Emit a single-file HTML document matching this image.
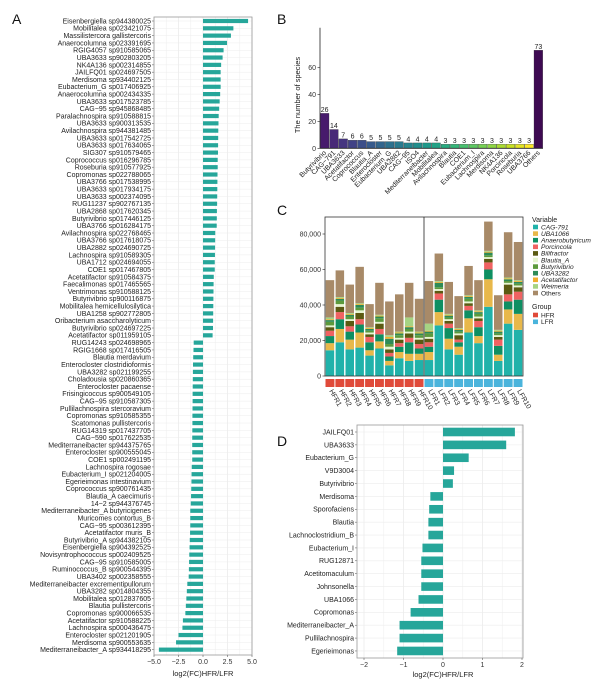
<!DOCTYPE html>
<html><head><meta charset="utf-8"><style>
html,body{margin:0;padding:0;background:#fff;}
svg{display:block;font-family:"Liberation Sans",Arial,sans-serif;}
</style></head><body>
<svg id="fig" width="612" height="693" viewBox="0 0 612 693" xmlns="http://www.w3.org/2000/svg">
<rect width="612" height="693" fill="#fff"/>
<g id="pA"></g>
<g id="pB"></g>
<g id="pC"></g>
<g id="pD"></g>
</svg>
<script>
// ---------- Panel A data ----------
const aSpecies = ["Eisenbergiella sp944380025","Mobilitalea sp023421075","Massilistercora gallistercoris","Anaerocolumna sp023391695","RGIG4057 sp910585065","UBA3633 sp902803205","NK4A136 sp002314855","JAILFQ01 sp024697505","Merdisoma sp934402125","Eubacterium_G sp017406925","Anaerocolumna sp002434335","UBA3633 sp017523785","CAG−95 sp945868485","Paralachnospira sp910588815","UBA3633 sp900313535","Avilachnospira sp944381485","UBA3633 sp017542725","UBA3633 sp017634065","SIG307 sp910579465","Coprococcus sp016296785","Roseburia sp910577925","Copromonas sp022788065","UBA3766 sp017538995","UBA3633 sp017934175","UBA3633 sp002374095","RUG11237 sp902767135","UBA2868 sp017620345","Butyrivibrio sp017446125","UBA3766 sp016284175","Avilachnospira sp022768465","UBA3766 sp017618075","UBA2882 sp024690725","Lachnospira sp910589305","UBA1712 sp024694055","COE1 sp017467805","Acetatifactor sp910584375","Faecalimonas sp017465565","Ventrimonas sp910588125","Butyrivibrio sp900116875","Mobilitalea hemicellulosilytica","UBA1258 sp902772805","Oribacterium asaccharolyticum","Butyrivibrio sp024697225","Acetatifactor sp011959105","RUG14243 sp024698965","RGIG1668 sp017416505","Blautia merdavium","Enterocloster clostridioformis","UBA3282 sp021199255","Choladousia sp020860365","Enterocloster pacaense","Frisingicoccus sp900549105","CAG−95 sp910587305","Pullilachnospira stercoravium","Copromonas sp910585355","Scatomonas pullistercoris","RUG14319 sp017437705","CAG−590 sp017622535","Mediterraneibacter sp944375765","Enterocloster sp900555045","COE1 sp002491195","Lachnospira rogosae","Eubacterium_I sp021204005","Egerieimonas intestinavium","Coprococcus sp900761435","Blautia_A caecimuris","14−2 sp944376745","Mediterraneibacter_A butyricigenes","Muricomes contortus_B","CAG−95 sp003612395","Acetatifactor muris_B","Butyrivibrio_A sp944382105","Eisenbergiella sp904392525","Novisyntrophococcus sp002409525","CAG−95 sp910585005","Ruminococcus_B sp900544395","UBA3402 sp002358555","Mediterraneibacter excrementipullorum","UBA3282 sp014804355","Mobilitalea sp012837605","Blautia pullistercoris","Copromonas sp900066535","Acetatifactor sp910588225","Lachnospira sp000436475","Enterocloster sp021201905","Merdisoma sp900553635","Mediterraneibacter_A sp934418295"];
const aValues = [4.6,3.1,2.85,2.45,2.1,2.0,1.85,1.8,1.8,1.8,1.75,1.7,1.65,1.6,1.58,1.56,1.55,1.54,1.53,1.5,1.5,1.48,1.47,1.46,1.45,1.44,1.42,1.41,1.4,1.25,1.24,1.23,1.22,1.2,1.2,1.1,1.08,1.07,1.06,1.05,1.04,1.03,1.02,0.98,-0.95,-0.97,-1.0,-1.02,-1.03,-1.04,-1.05,-1.06,-1.06,-1.07,-1.08,-1.08,-1.09,-1.1,-1.1,-1.1,-1.1,-1.15,-1.17,-1.18,-1.2,-1.22,-1.25,-1.3,-1.3,-1.3,-1.32,-1.35,-1.37,-1.4,-1.42,-1.44,-1.46,-1.6,-1.65,-1.7,-1.75,-1.8,-2.05,-2.1,-2.5,-2.75,-4.5];
const aTicks = [-5,-2.5,0,2.5,5];
const aTickLabels = ["−5.0","−2.5","0.0","2.5","5.0"];

// ---------- Panel B data ----------
const bGenera = ["Butyrivibrio","CAG−791","UBA3633","Acetatifactor","Coprococcus","Blautia_A","Enterocloster","Eubacterium_G","UBA2882","CAG−95","ISO4","Mediterraneibacter","Mobilitalea","Avilachnospira","Blautia","COE1","Eubacterium_I","Lachnospira","Merdisoma","NK4A136","Porcincola","Roseburia","UBA3766","Others"];
const bCounts = [26,14,7,6,6,5,5,5,5,4,4,4,4,3,3,3,3,3,3,3,3,3,3,73];
const bTicks = [0,20,40,60];

// ---------- Panel C data ----------
const cSamples = ["HFR1","HFR2","HFR3","HFR4","HFR5","HFR6","HFR7","HFR8","HFR9","HFR10","LFR1","LFR2","LFR3","LFR4","LFR5","LFR6","LFR7","LFR8","LFR9","LFR10"];
const cGroups = ["HFR","HFR","HFR","HFR","HFR","HFR","HFR","HFR","HFR","HFR","LFR","LFR","LFR","LFR","LFR","LFR","LFR","LFR","LFR","LFR"];
const cVariables = ["CAG-791","UBA1066","Anaerobutyricum","Porcincola","Bilifractor","Blautia_A","Butyrivibrio","UBA3282","Acetatifactor","Weimeria","Others"];
const cCAG791 = [14.5,19,15,16,11.5,15.5,6,10,8.5,9,9,28.5,15,12,24.5,18.5,39,8.5,29.5,26];
const cUBA1066 = [4,7.5,5.5,8.5,3,4,2.5,3.5,4,3.5,4.5,7.5,6,4.5,8,4,15.5,3.5,8,9];
const cAnaerobutyricum = [4,5.5,4.5,4.5,4.5,4,2.5,3,6.5,3,3,7,6,2.5,4.5,5,5.5,5,4.5,8];
const cPorcincola = [3,4,3,3,3,3,2,2,2.5,2.5,2.5,3.5,2.5,1.5,2.5,3.5,4,3.5,4,4.5];
const cBilifractor = [2,3,3,3.5,1.5,3,2,2,2.5,2.5,2,1.5,1.5,2.5,1.5,1.5,2,1.5,5.5,2.5];
const cBlautiaA = [1,1.5,1,1.5,1,1,1.5,1,1,1,1,1,1,1,1,1,1,1,1,1];
const cButyrivibrio = [2,2,1.5,1.5,1,2,1.5,1.5,1.5,1.5,2,1,1,1,1.5,1.5,1,1,1,1];
const cUBA3282 = [1,1,1,1.5,1,1,3,1,1,1,1,2.5,1,1,1,1,1.5,1,1,1];
const cAcetatifactor = [0.5,0.5,0.5,0.5,0.5,0.5,1,0.5,0.5,0.5,0.5,0.5,0.5,0.5,0.5,0.5,0.5,0.5,0.5,0.5];
const cWeimeria = [1,0.5,0.5,0.5,0.5,0.5,1,0.5,5,0.5,4,0.5,0.5,0.5,0.5,0.5,0.5,0.5,0.5,0.5];
const cOthers = [21,15,16,20.5,13,18,19,21,19.5,18.5,24,15.5,18,18,16.5,17,16.5,19.5,25.5,21.5];
const cTicks = [0,20,40,60,80];
const cTickLabels = ["0","20,000","40,000","60,000","80,000"];

// ---------- Panel D data ----------
const dGenera = ["JAILFQ01","UBA3633","Eubacterium_G","V9D3004","Butyrivibrio","Merdisoma","Sporofaciens","Blautia","Lachnoclostridium_B","Eubacterium_I","RUG12871","Acetitomaculum","Johnsonella","UBA1066","Copromonas","Mediterraneibacter_A","Pullilachnospira","Egerieimonas"];
const dValues = [1.82,1.6,0.65,0.28,0.25,-0.32,-0.35,-0.37,-0.37,-0.52,-0.55,-0.55,-0.55,-0.62,-0.82,-1.1,-1.1,-1.16];
const dTicks = [-2,-1,0,1,2];
const dTickLabels = ["−2","−1","0","1","2"];

const NS = "http://www.w3.org/2000/svg";
function mk(parent, tag, attrs, text){
  const e = document.createElementNS(NS, tag);
  for (const k in attrs) e.setAttribute(k, attrs[k]);
  if (text !== undefined) e.textContent = text;
  parent.appendChild(e);
  return e;
}
const TEAL = "#26a69a";

// ================= Panel A =================
(function(){
  const g = document.getElementById('pA');
  const L = 154, R = 252, T = 17, B = 655;
  const x = v => L + (v + 5) / 10 * (R - L);
  const step = 7.31, y0 = 21;
  const y = i => y0 + i * step;
  let t = mk(g,'text',{x:12,y:24,'font-size':14,fill:'#111'},'A');
   
  // grid
  for (let v = -5; v <= 5; v += 1.25){
    const gl = mk(g,'line',{x1:x(v),x2:x(v),y1:T,y2:B,stroke: (v%2.5===0)?'#e4e4e4':'#f0f0f0','stroke-width':0.6});
     
  }
  aSpecies.forEach((s,i)=>{
    const gl = mk(g,'line',{x1:L,x2:R,y1:y(i),y2:y(i),stroke:'#ececec','stroke-width':0.5});
     
  });
  aValues.forEach((v,i)=>{
    const x1 = Math.min(x(0), x(v)), w = Math.abs(x(v) - x(0));
    const r = mk(g,'rect',{x:x1,y:y(i)-2.1,width:w,height:4.2,fill:TEAL});
     
  });
  aSpecies.forEach((s,i)=>{
    const tx = mk(g,'text',{x:L-3,y:y(i)+2.4,'font-size':7,'text-anchor':'end',fill:'#222'},s);
     
    mk(g,'line',{x1:L-2,x2:L,y1:y(i),y2:y(i),stroke:'#444','stroke-width':0.5});
  });
  const box = mk(g,'rect',{x:L,y:T,width:R-L,height:B-T,fill:'none',stroke:'#999','stroke-width':0.8});
   
  aTicks.forEach((v,i)=>{
    mk(g,'line',{x1:x(v),x2:x(v),y1:B,y2:B+2,stroke:'#444','stroke-width':0.5});
    const tl = mk(g,'text',{x:x(v),y:B+9,'font-size':7,'text-anchor':'middle',fill:'#333'},aTickLabels[i]);
     
  });
  const xt = mk(g,'text',{x:x(0),y:B+21,'font-size':7.5,'text-anchor':'middle',fill:'#222'},'log2(FC)HFR/LFR');
   
})();

// ================= Panel B =================
(function(){
  const g = document.getElementById('pB');
  const L = 320, R = 543, B0 = 148.3, per = 1.343;
  const y = v => B0 - v * per;
  const bw = (R - L) / bGenera.length;
  const x = i => L + i * bw;
  let t = mk(g,'text',{x:277,y:24,'font-size':14,fill:'#111'},'B');
   
  const viridis = ["#440154","#482173","#433e85","#38588c","#2d708e","#25858e","#1e9b8a","#2ab07f","#52c569","#86d549","#c2df23","#fde725"];
  function vir(tt){
    const p = tt * (viridis.length - 1), i = Math.floor(p), f = p - i;
    const a = viridis[i], b = viridis[Math.min(i+1, viridis.length-1)];
    const h = (c,k)=>parseInt(c.substr(1+2*k,2),16);
    let s = '#';
    for (let k=0;k<3;k++){ s += Math.round(h(a,k)+(h(b,k)-h(a,k))*f).toString(16).padStart(2,'0'); }
    return s;
  }
  const n = bGenera.length - 1;
  bCounts.forEach((v,i)=>{
    const col = i === n ? '#3e0a52' : vir(0.07 + 0.93 * i / (n - 1));
    const r = mk(g,'rect',{x:x(i)+0.3,y:y(v),width:bw-0.6,height:B0-y(v),fill:col,stroke:'#333','stroke-width':0.3});
     
    const vl = mk(g,'text',{x:x(i)+bw/2,y:y(v)-1.5,'font-size':7,'text-anchor':'middle',fill:'#222'},String(v));
     
    const cx = x(i)+bw/2+2, cy = B0+5;
    const cl = mk(g,'text',{x:cx,y:cy,'font-size':7,'text-anchor':'end',fill:'#222',transform:`rotate(-45 ${cx} ${cy})`},bGenera[i]);
     
  });
  mk(g,'line',{x1:L,x2:L,y1:27.7,y2:B0,stroke:'#222','stroke-width':0.8});
  mk(g,'line',{x1:L,x2:R,y1:B0,y2:B0,stroke:'#222','stroke-width':0.8});
  bTicks.forEach(v=>{
    mk(g,'line',{x1:L-2.5,x2:L,y1:y(v),y2:y(v),stroke:'#222','stroke-width':0.6});
    const tl = mk(g,'text',{x:L-4,y:y(v)+2.5,'font-size':7,'text-anchor':'end',fill:'#333'},String(v));
     
  });
  const yt = mk(g,'text',{x:300,y:95,'font-size':7.5,'text-anchor':'middle',fill:'#222',transform:'rotate(-90 300 95)'},'The number of species');
   
})();

// ================= Panel C =================
(function(){
  const g = document.getElementById('pC');
  const L = 325, R = 523, T = 217, B0 = 376, per = 1.775;
  const y = v => B0 - v * per;
  const bw = (R - L) / cSamples.length;
  const x = i => L + i * bw;
  let t = mk(g,'text',{x:277,y:215,'font-size':14,fill:'#111'},'C');
   
  const series = [cCAG791,cUBA1066,cAnaerobutyricum,cPorcincola,cBilifractor,cBlautiaA,cButyrivibrio,cUBA3282,cAcetatifactor,cWeimeria,cOthers];
  const colors = ["#20b2aa","#e8b84a","#0e8f62","#f06262","#5b5a12","#e6f5d0","#5c9a3c","#2e8b57","#f0ae2e","#a6d483","#a88a68"];
  cSamples.forEach((s,i)=>{
    let acc = 0;
    series.forEach((ser,k)=>{
      const v = ser[i];
      const r = mk(g,'rect',{x:x(i)+0.7,y:y(acc+v),width:bw-1.4,height:v*per,fill:colors[k]});
       
      acc += v;
    });
    const gc = cGroups[i] === 'HFR' ? '#e04a3a' : '#4ab4dc';
    const gr = mk(g,'rect',{x:x(i)+0.5,y:379,width:bw-1,height:8,fill:gc});
     
    const cx = x(i)+bw/2-1, cy = 391;
    const sl = mk(g,'text',{x:cx,y:cy,'font-size':7,'text-anchor':'start',fill:'#222',transform:`rotate(60 ${cx} ${cy})`},s);
     
  });
  const fr = mk(g,'rect',{x:L,y:T,width:R-L,height:B0-T,fill:'none',stroke:'#333','stroke-width':0.8});
   
  mk(g,'line',{x1:x(10),x2:x(10),y1:T,y2:B0,stroke:'#222','stroke-width':0.8});
  cTicks.forEach((v,i)=>{
    mk(g,'line',{x1:L-2.5,x2:L,y1:y(v),y2:y(v),stroke:'#222','stroke-width':0.6});
    const tl = mk(g,'text',{x:L-4,y:y(v)+2.5,'font-size':7,'text-anchor':'end',fill:'#333'},cTickLabels[i]);
     
  });
  // legend
  const lt = mk(g,'text',{x:532,y:222,'font-size':7,fill:'#222'},'Variable');
   
  cVariables.forEach((v,k)=>{
    const ly = 227 + k * 6.6;
    const sw = mk(g,'rect',{x:533,y:ly-2.3,width:5,height:4.6,fill:colors[k]});
     
    const tx = mk(g,'text',{x:541,y:ly+2.3,'font-size':6.6,'font-style':v==='Others'?'normal':'italic',fill:'#222'},v);
     
  });
  const gt = mk(g,'text',{x:532,y:309,'font-size':7,fill:'#222'},'Group');
   
  [["HFR","#e04a3a"],["LFR","#4ab4dc"]].forEach((p,k)=>{
    const ly = 315 + k * 6.8;
    const sw = mk(g,'rect',{x:533,y:ly-2.3,width:5,height:4.6,fill:p[1]});
     
    const tx = mk(g,'text',{x:541,y:ly+2.3,'font-size':6.6,fill:'#222'},p[0]);
     
  });
})();

// ================= Panel D =================
(function(){
  const g = document.getElementById('pD');
  const L = 357, R = 523, T = 425, B = 658, zero = 443, per = 39.5;
  const x = v => zero + v * per;
  const step = 12.88, y0 = 432;
  const y = i => y0 + i * step;
  let t = mk(g,'text',{x:277,y:446,'font-size':14,fill:'#111'},'D');
   
  for (let v = -2; v <= 2; v += 0.5){
    const gl = mk(g,'line',{x1:x(v),x2:x(v),y1:T,y2:B,stroke:Number.isInteger(v)?'#e4e4e4':'#f0f0f0','stroke-width':0.6});
     
  }
  dGenera.forEach((s,i)=>{
    mk(g,'line',{x1:L,x2:R,y1:y(i),y2:y(i),stroke:'#ececec','stroke-width':0.6});
  });
  dValues.forEach((v,i)=>{
    const x1 = Math.min(x(0), x(v)), w = Math.abs(x(v)-x(0));
    const r = mk(g,'rect',{x:x1,y:y(i)-4.3,width:w,height:8.6,fill:TEAL});
     
  });
  dGenera.forEach((s,i)=>{
    const tx = mk(g,'text',{x:L-3,y:y(i)+2.4,'font-size':7,'text-anchor':'end',fill:'#222'},s);
     
    mk(g,'line',{x1:L-2,x2:L,y1:y(i),y2:y(i),stroke:'#444','stroke-width':0.5});
  });
  const fr = mk(g,'rect',{x:L,y:T,width:R-L,height:B-T,fill:'none',stroke:'#999','stroke-width':0.8});
   
  dTicks.forEach((v,i)=>{
    mk(g,'line',{x1:x(v),x2:x(v),y1:B,y2:B+2,stroke:'#444','stroke-width':0.5});
    const tl = mk(g,'text',{x:x(v),y:B+9,'font-size':7,'text-anchor':'middle',fill:'#333'},dTickLabels[i]);
     
  });
  const xt = mk(g,'text',{x:x(0),y:677,'font-size':7.5,'text-anchor':'middle',fill:'#222'},'log2(FC)HFR/LFR');
   
})();
</script>
</body></html>
